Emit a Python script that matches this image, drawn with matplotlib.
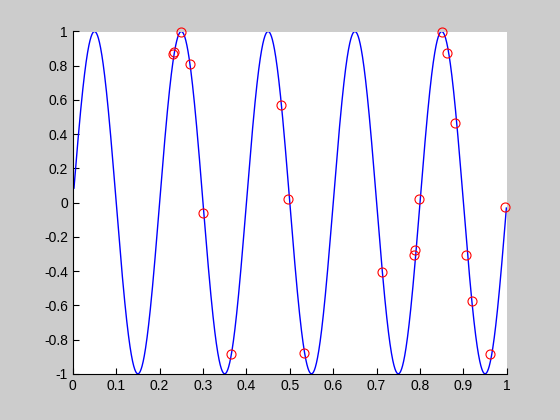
import numpy as np
import matplotlib
matplotlib.use("Agg")
from matplotlib import pyplot as plt

# signal: sin(2*pi*f*t), sampled between first and last sample time
freq = 5
t_start = 0.0027
t_end = 0.999

# red samples
t_samp = [0.232, 0.234, 0.250, 0.269, 0.301, 0.365, 0.480, 0.497, 0.533, 0.712,
          0.787, 0.789, 0.798, 0.851, 0.863, 0.881, 0.905, 0.919, 0.962, 0.997]
y_samp = [0.866, 0.878, 0.998, 0.813, -0.06, -0.887, 0.568, 0.019, -0.877, -0.407,
          -0.306, -0.277, 0.024, 0.998, 0.876, 0.468, -0.306, -0.574, -0.885, -0.028]

xticks = [0, 0.1, 0.2, 0.3, 0.4, 0.5, 0.6, 0.7, 0.8, 0.9, 1]
yticks = [-1, -0.8, -0.6, -0.4, -0.2, 0, 0.2, 0.4, 0.6, 0.8, 1]

plt.rcParams['font.family'] = ['Liberation Sans', 'DejaVu Sans']

t = np.linspace(t_start, t_end, 2000)
y = np.sin(2 * np.pi * freq * t)

fig = plt.figure(figsize=(5.6, 4.2), dpi=100, facecolor=(0.8, 0.8, 0.8))
ax = fig.add_axes([0.13, 0.11, 0.775, 0.815])

ax.plot(t, y, color="blue", linewidth=1)
ax.plot(t_samp, y_samp, "o", markerfacecolor="none", markeredgecolor="red",
        markersize=6.5, markeredgewidth=0.8, clip_on=False)

ax.set_xlim(0, 1)
ax.set_ylim(-1, 1)
ax.set_xticks(xticks)
ax.set_xticklabels(["%g" % v for v in xticks])
ax.set_yticks(yticks)
ax.set_yticklabels(["%g" % v for v in yticks])
ax.tick_params(direction="in", length=4, labelsize=10, width=0.8)
ax.spines["top"].set_visible(False)
ax.spines["right"].set_visible(False)

plt.savefig("out.png", dpi=100, facecolor=fig.get_facecolor())
